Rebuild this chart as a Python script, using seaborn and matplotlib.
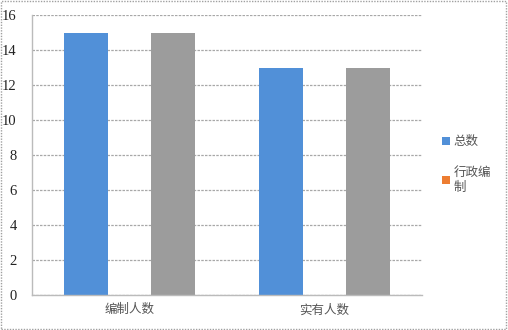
import matplotlib
matplotlib.use("Agg")
import matplotlib.pyplot as plt
import seaborn as sns
import pandas as pd
from matplotlib.patches import Rectangle, Patch

categories = ["编制人数", "实有人数"]
series_names = ["总数", "行政编制", "其他"]
total_values = [15, 13]
admin_values = [0, 0]
other_values = [15, 13]
y_ticks = [0, 2, 4, 6, 8, 10, 12, 14, 16]

colors = ["#5190D8", "#ED7D31", "#9C9C9C"]

sns.set_theme(style="white")
plt.rcParams["font.family"] = ["Noto Sans CJK SC", "DejaVu Sans"]

df = pd.DataFrame({
    "category": categories * 3,
    "series": [series_names[0]] * 2 + [series_names[1]] * 2 + [series_names[2]] * 2,
    "value": total_values + admin_values + other_values,
})

fig = plt.figure(figsize=(5.08, 3.30), dpi=100)
ax = fig.add_axes([32 / 508, 35 / 330, 390 / 508, 280 / 330])

sns.barplot(data=df, x="category", y="value", hue="series", hue_order=series_names,
            palette=colors, width=0.667, gap=0, saturation=1, ax=ax, legend=False,
            edgecolor="none", linewidth=0)

ax.set_ylim(0, 16)
ax.set_xlim(-0.5, 1.5)
ax.set_yticks(y_ticks)
ax.set_yticklabels([str(v) for v in y_ticks], fontfamily="Liberation Serif", fontsize=10.5, color="#222222")
ax.set_xticks([0, 1])
ax.set_xticklabels(categories, fontsize=9, color="#555555")
ax.set_xlabel("")
ax.set_ylabel("")
ax.yaxis.grid(True, color="#A8A8A8", linestyle=(0, (2, 1)), linewidth=0.9)
ax.set_axisbelow(True)
for s in ["top", "right"]:
    ax.spines[s].set_visible(False)
for s in ["left", "bottom"]:
    ax.spines[s].set_color("#BBBBBB")
    ax.spines[s].set_linewidth(1.0)
ax.tick_params(axis="y", length=4, color="#BBBBBB", direction="out", pad=7)
ax.tick_params(axis="x", length=0, pad=6)
ax.set_xticks([-0.5, 0.5, 1.5], minor=True)
ax.tick_params(axis="x", which="minor", length=4, color="#BBBBBB", direction="out")

handles = [Patch(facecolor=colors[0], edgecolor="none"),
           Patch(facecolor=colors[1], edgecolor="none")]
leg = fig.legend(handles, ["总数", "行政编\n制"], loc="upper left",
                 bbox_to_anchor=(431 / 508, 1 - 124 / 330), frameon=False,
                 fontsize=9, handlelength=0.6, handleheight=0.6, handletextpad=0.3,
                 labelspacing=1.4)
for t in leg.get_texts():
    t.set_color("#555555")

fig.patches.append(Rectangle((0.002, 0.003), 0.994, 0.994, transform=fig.transFigure,
                             fill=False, edgecolor="#A0A0A0", linestyle=(0, (1, 1)),
                             linewidth=1.0))

fig.savefig("out.png", dpi=100)
